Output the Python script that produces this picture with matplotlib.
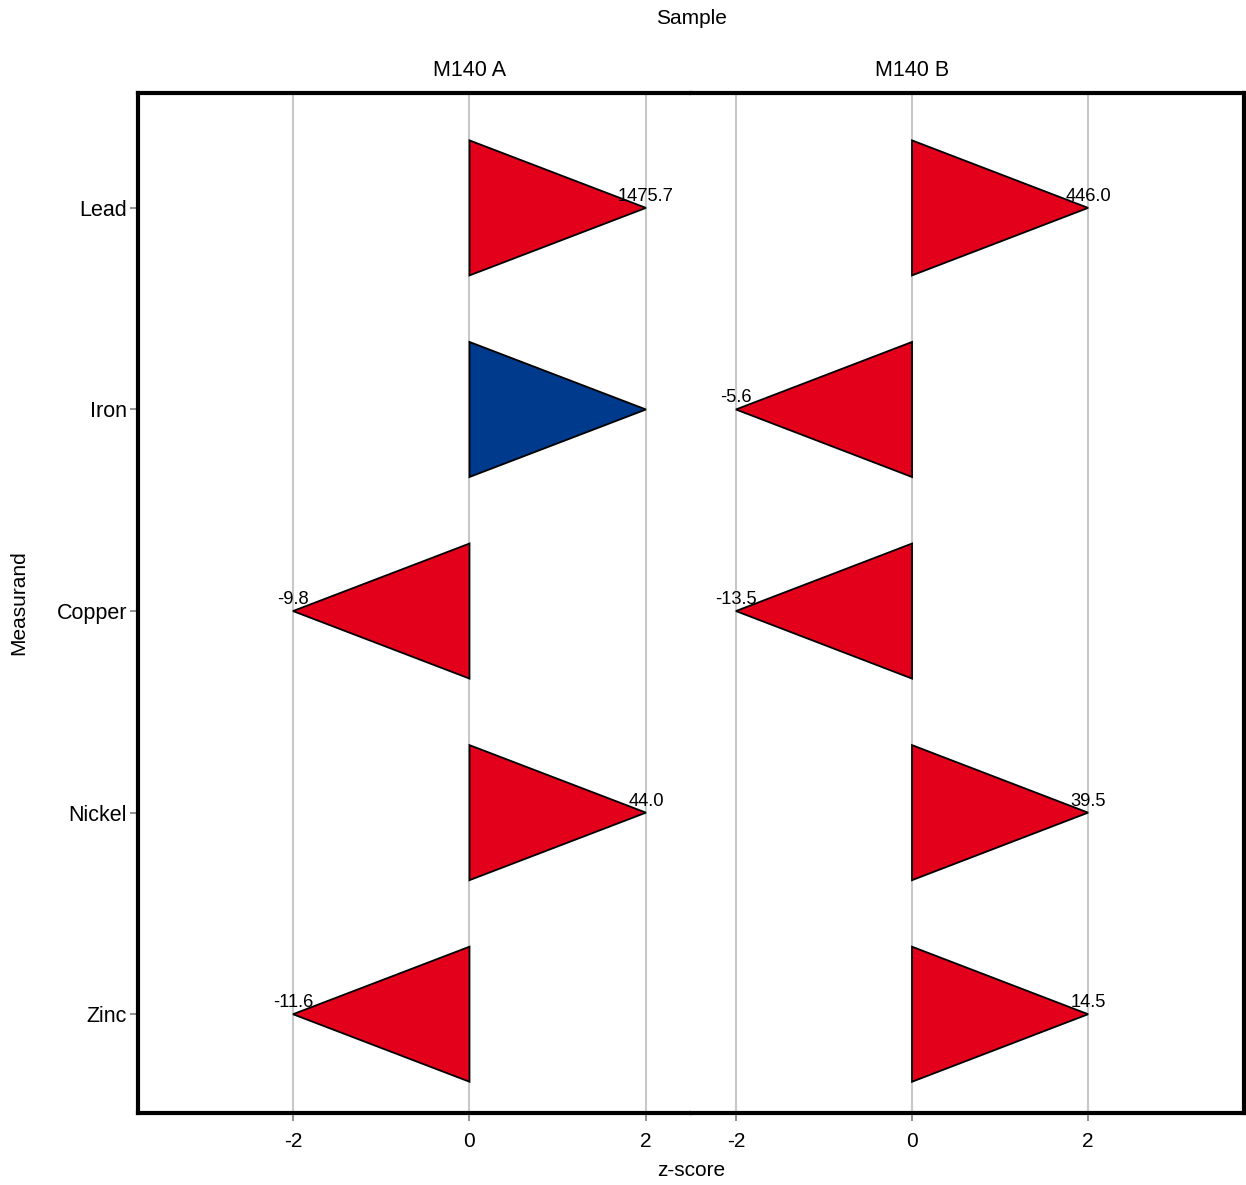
import numpy as np
import matplotlib.pyplot as plt
from matplotlib.patches import Polygon

plt.rcParams['font.family'] = ['Liberation Sans', 'DejaVu Sans']

measurands = ['Lead', 'Iron', 'Copper', 'Nickel', 'Zinc']
samples = ['M140 A', 'M140 B']
# z-scores as printed; Iron in M140 A has no printed value (within limits)
zscores = {
    'M140 A': [1475.7, 2.0, -9.8, 44.0, -11.6],
    'M140 B': [446.0, -5.6, -13.5, 39.5, 14.5],
}
xticks = [-2, 0, 2]
limit = 2.0

red = '#e2001a'
blue = '#003a8c'
grid_col = '#c8c8c8'

fig = plt.figure(figsize=(12.46, 11.85), dpi=100)
left, bottom, height = 138 / 1246, 72 / 1185, 1020 / 1185
width = 553 / 1246
axes = [fig.add_axes([left, bottom, width, height]),
        fig.add_axes([left + width, bottom, width, height])]
xlims = [(-3.756, 2.51), (-2.51, 3.77)]

half = 0.335
for i, (ax, s) in enumerate(zip(axes, samples)):
    ax.set_xlim(*xlims[i])
    ax.set_ylim(4.49, -0.57)
    for xv in xticks:
        ax.axvline(xv, color=grid_col, lw=1.5, zorder=0)
    for j, z in enumerate(zscores[s]):
        tip = np.clip(z, -limit, limit)
        col = red if abs(z) > limit else blue
        tri = Polygon([[0, j - half], [0, j + half], [tip, j]], closed=True,
                      facecolor=col, edgecolor='black', lw=1.3, zorder=2)
        ax.add_patch(tri)
        if abs(z) > limit:
            ax.text(tip, j - 0.015, f'{z:.1f}', ha='center', va='bottom',
                    fontsize=13.2, zorder=3)
    ax.set_xticks(xticks)
    ax.set_xticklabels([str(t) for t in xticks])
    ax.tick_params(axis='x', colors='#808080', labelcolor='black',
                   labelsize=15, length=6, width=1.2, pad=8)
    ax.text(0, -0.684, s, ha='center', va='center', fontsize=15.5,
            transform=ax.transData, clip_on=False)
    for sp in ax.spines.values():
        sp.set_linewidth(3)
        sp.set_color('black')
    if i == 0:
        ax.spines['right'].set_visible(False)
        ax.set_yticks(range(len(measurands)))
        ax.set_yticklabels(measurands)
        ax.tick_params(axis='y', colors='#808080', labelcolor='black',
                       labelsize=15.5, length=6, width=1.2, pad=2)
        ax.set_ylabel('Measurand', fontsize=15, labelpad=20)
    else:
        ax.spines['left'].set_visible(False)
        ax.set_yticks([])

fig.text(691 / 1246, 1 - 18 / 1185, 'Sample', ha='center', va='center', fontsize=15)
fig.text(691 / 1246, 1 - 1170 / 1185, 'z-score', ha='center', va='center', fontsize=15)

fig.savefig('out.png', dpi=100)
